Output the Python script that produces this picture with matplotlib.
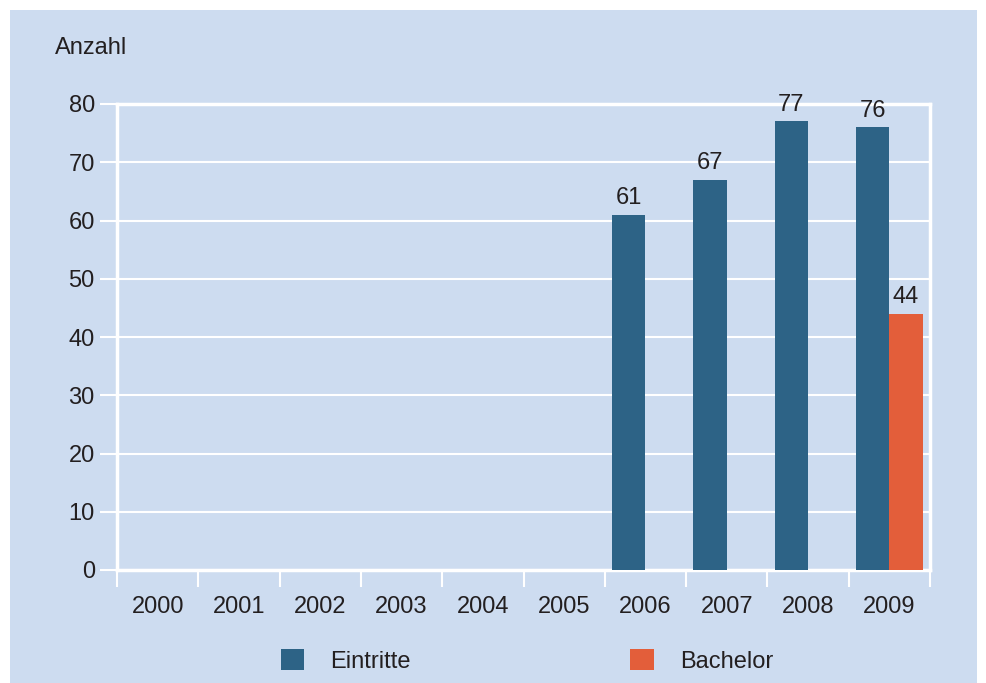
import numpy as np
import matplotlib.pyplot as plt
from matplotlib.patches import Rectangle, Patch

plt.rcParams['font.family'] = ['Liberation Sans', 'DejaVu Sans']

years = ['2000', '2001', '2002', '2003', '2004', '2005', '2006', '2007', '2008', '2009']
eintritte = [np.nan, np.nan, np.nan, np.nan, np.nan, np.nan, 61, 67, 77, 76]
bachelor = [np.nan, np.nan, np.nan, np.nan, np.nan, np.nan, np.nan, np.nan, np.nan, 44]

bg = '#cddcf0'
c_ein = '#2d6386'
c_bach = '#e35e3a'
txt = '#231f20'
fs = 17

fig = plt.figure(figsize=(9.87, 6.83), dpi=100, facecolor='white')
# light blue panel with white frame
fig.patches.append(Rectangle((10 / 987, 0), 967 / 987, 673 / 683, transform=fig.transFigure,
                             facecolor=bg, edgecolor='none', zorder=-10))

ax = fig.add_axes([117 / 987, 113 / 683, 813 / 987, 466 / 683])
ax.set_zorder(2)
ax.set_facecolor(bg)

x = np.arange(len(years))
w = 0.41
ax.bar(x - w / 2, eintritte, w, color=c_ein, zorder=3)
ax.bar(x + w / 2, bachelor, w, color=c_bach, zorder=3)

for i, v in enumerate(eintritte):
    if not np.isnan(v):
        ax.text(x[i] - w / 2, v + 0.9, str(int(v)), ha='center', va='bottom', fontsize=fs, color=txt)
for i, v in enumerate(bachelor):
    if not np.isnan(v):
        ax.text(x[i] + w / 2, v + 0.9, str(int(v)), ha='center', va='bottom', fontsize=fs, color=txt)

ax.set_xlim(-0.5, len(years) - 0.5)
ax.set_ylim(0, 80)
ax.set_yticks(np.arange(0, 81, 10))
ax.yaxis.grid(True, color='white', linewidth=1.5, zorder=1)
ax.set_axisbelow(True)

# tick marks at category boundaries, labels at centers
ax.set_xticks(np.arange(-0.5, len(years), 1.0))
ax.set_xticklabels([])
ax.set_xticks(x, minor=True)
ax.set_xticklabels(years, minor=True)
ax.tick_params(axis='x', which='major', length=12, width=1.5, color='white', direction='out')
ax.tick_params(axis='x', which='minor', length=0, labelsize=fs, labelcolor=txt, pad=19)
ax.tick_params(axis='y', length=12, width=1.5, color='white', labelsize=fs, labelcolor=txt, pad=4)

for s in ax.spines.values():
    s.set_color('white')
    s.set_linewidth(2.5)

fig.text(55 / 987, 1 - 48 / 683, 'Anzahl', fontsize=fs, color=txt, ha='left', va='center')

handles = [Patch(facecolor=c_ein, edgecolor='none'), Patch(facecolor=c_bach, edgecolor='none')]
fig.legend(handles, ['Eintritte', 'Bachelor'], loc='center', bbox_to_anchor=(527 / 987, 22 / 683),
           ncol=2, frameon=False, fontsize=fs, handlelength=1.0, handleheight=1.0,
           handletextpad=1.1, columnspacing=9.3, labelcolor=txt)

fig.savefig('out.png', dpi=100, facecolor='white')
